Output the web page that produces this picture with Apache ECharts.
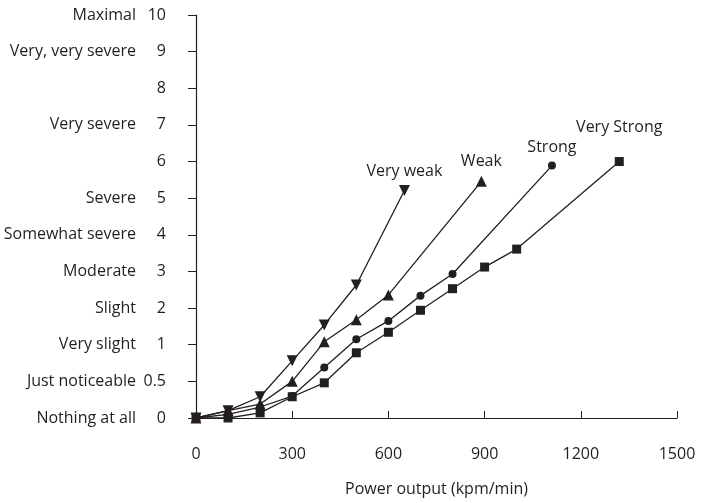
<!DOCTYPE html>
<html>
<head>
<meta charset="utf-8">
<script src="https://cdn.jsdelivr.net/npm/echarts@6/dist/echarts.min.js"></script>
<style>
  html, body { margin: 0; padding: 0; background: #fff; }
  #chart { width: 703px; height: 503px; }
</style>
</head>
<body>
<div id="chart"></div>
<script>
// y-axis ticks (RPE scale) and their descriptors
const yTicks = [0, 0.5, 1, 2, 3, 4, 5, 6, 7, 8, 9, 10]
const yDesc = ['Nothing at all', 'Just noticeable', 'Very slight', 'Slight', 'Moderate',
  'Somewhat severe', 'Severe', '', 'Very severe', '', 'Very, very severe', 'Maximal']
const xTicks = [0, 300, 600, 900, 1200, 1500]

// power output (kpm/min) vs rating
const powerVeryWeak = [0, 100, 200, 300, 400, 500, 650]
const rpeVeryWeak = [0, 0.1, 0.29, 0.78, 1.54, 2.63, 5.21]
const powerWeak = [0, 100, 200, 300, 400, 500, 600, 890]
const rpeWeak = [0, 0.1, 0.19, 0.5, 1.08, 1.68, 2.36, 5.46]
const powerStrong = [0, 100, 200, 300, 400, 500, 600, 700, 800, 1110]
const rpeStrong = [0, 0.05, 0.15, 0.3, 0.69, 1.15, 1.65, 2.34, 2.93, 5.89]
const powerVeryStrong = [0, 100, 200, 300, 400, 500, 600, 700, 800, 900, 1000, 1320]
const rpeVeryStrong = [0, 0, 0.07, 0.29, 0.48, 0.89, 1.34, 1.94, 2.53, 3.12, 3.61, 6.0]

// ticks are evenly spaced, so 0-1 takes two steps and above that one step per unit
const pos = v => (v <= 1 ? v * 2 : v + 1)

const ink = '#231f20'
const font = 'Open Sans'
const fs = 16

function line(name, xs, ys, symbol, size, labelDist) {
  const data = xs.map((x, i) => [x, pos(ys[i])])
  const last = data.length - 1
  data[last] = {
    value: data[last],
    label: { show: true, formatter: name, position: 'top', distance: labelDist,
      color: ink, fontFamily: font, fontSize: fs },
  }
  return {
    name, type: 'line', data, symbol, symbolSize: size,
    lineStyle: { color: ink, width: 1.3 },
    itemStyle: { color: ink },
    z: 3,
  }
}

const chart = echarts.init(document.getElementById('chart'))
chart.setOption({
  animation: false,
  grid: { left: 196, right: 26, top: 15, bottom: 85 },
  xAxis: {
    type: 'value', min: 0, max: 1500, interval: 300, offset: 19,
    name: 'Power output (kpm/min)', nameLocation: 'middle', nameGap: 44,
    nameTextStyle: { color: ink, fontFamily: font, fontSize: fs },
    axisLine: { lineStyle: { color: ink, width: 1.2 } },
    axisTick: { inside: true, length: 7, lineStyle: { color: ink } },
    axisLabel: { color: ink, fontFamily: font, fontSize: fs, margin: 9,
      formatter: v => String(v) },
    splitLine: { show: false },
  },
  yAxis: {
    type: 'value', min: 0, max: 11, interval: 1, offset: 15,
    axisLine: { show: true, lineStyle: { color: ink, width: 1.2 } },
    axisTick: { show: true, length: 8, lineStyle: { color: ink } },
    axisLabel: {
      margin: 15,
      formatter: v => `{d|${yDesc[v]}}{n|${yTicks[v]}}`,
      rich: {
        d: { color: ink, fontFamily: font, fontSize: fs },
        n: { color: ink, fontFamily: font, fontSize: fs, width: 30, align: 'right' },
      },
    },
    splitLine: { show: false },
  },
  series: [
    line('Very weak', powerVeryWeak, rpeVeryWeak, 'path://M0,0L10,0L5,9Z', 11, 6),
    line('Weak', powerWeak, rpeWeak, 'triangle', 11, 6),
    line('Strong', powerStrong, rpeStrong, 'circle', 8, 6),
    line('Very Strong', powerVeryStrong, rpeVeryStrong, 'rect', 9, 22),
  ],
})
</script>
</body>
</html>
